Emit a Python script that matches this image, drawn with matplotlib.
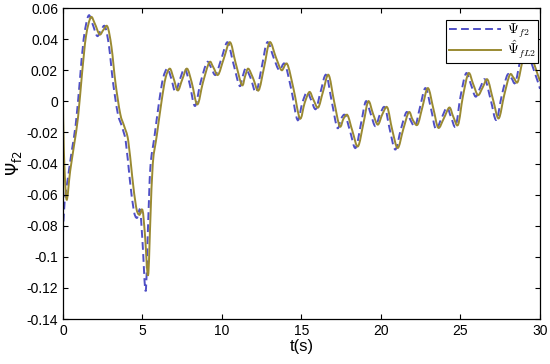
import matplotlib
matplotlib.use('Agg')
import matplotlib.pyplot as plt
from matplotlib.path import Path
from matplotlib.patches import PathPatch
from matplotlib.font_manager import FontProperties
import numpy as np

plt.rcParams['font.family'] = ['Liberation Sans', 'DejaVu Sans']

# reference signal Psi_f2 (dashed)
t_ref = [0.0, 0.1, 0.3, 0.55, 0.8, 1.05, 1.3, 1.6, 1.85, 2.15, 2.4, 2.65, 2.9, 3.15,
         3.45, 3.7, 3.95, 4.2, 4.45, 4.65, 4.85, 5.0, 5.2, 5.35, 5.5, 5.75, 6.05,
         6.3, 6.57, 6.8, 7.07, 7.35, 7.65, 7.95, 8.3, 8.65, 9.05, 9.3, 9.6, 9.95,
         10.35, 10.7, 11.1, 11.3, 11.5, 11.8, 12.15, 12.5, 12.85, 13.25, 13.6,
         13.95, 14.35, 14.75, 15.05, 15.35, 15.6, 15.9, 16.2, 16.55, 16.9, 17.25,
         17.5, 17.75, 18.05, 18.4, 18.75, 19.05, 19.35, 19.65, 19.95, 20.25, 20.55,
         20.9, 21.25, 21.6, 21.85, 22.15, 22.45, 22.8, 23.15, 23.45, 23.8, 24.15,
         24.4, 24.7, 25.0, 25.35, 25.65, 25.95, 26.25, 26.55, 26.9, 27.25, 27.6,
         27.95, 28.2, 28.45, 28.75, 29.05, 29.45, 29.85, 30.0]
psi_ref = [-0.085, -0.065, -0.05, -0.032, -0.015, 0.012, 0.04, 0.055, 0.05, 0.042,
           0.046, 0.048, 0.035, 0.012, -0.008, -0.016, -0.026, -0.05, -0.07, -0.075,
           -0.07, -0.09, -0.122, -0.08, -0.042, -0.023, 0.0, 0.015, 0.021, 0.015,
           0.006, 0.014, 0.021, 0.012, -0.003, 0.012, 0.025, 0.022, 0.017, 0.027,
           0.038, 0.025, 0.01, 0.016, 0.021, 0.015, 0.006, 0.022, 0.038, 0.028,
           0.02, 0.024, 0.008, -0.012, -0.001, 0.006, 0.001, -0.005, 0.006, 0.017,
           0.0, -0.017, -0.011, -0.009, -0.019, -0.03, -0.014, 0.0, -0.008, -0.016,
           -0.008, -0.004, -0.018, -0.031, -0.018, -0.007, -0.012, -0.016, -0.004,
           0.0085, -0.005, -0.018, -0.011, -0.004, -0.01, -0.016, 0.003, 0.018,
           0.011, 0.003, 0.009, 0.014, 0.001, -0.012, 0.004, 0.017, 0.015, 0.012,
           0.026, 0.038, 0.025, 0.013, 0.008]

# estimate Psi_fL2 (solid)
t_est = [0.0, 0.05, 0.22, 0.45, 0.7, 0.95, 1.2, 1.45, 1.75, 2.0, 2.3, 2.55, 2.8,
         3.05, 3.3, 3.6, 3.85, 4.1, 4.35, 4.6, 4.8, 5.0, 5.15, 5.35, 5.5, 5.65,
         5.9, 6.2, 6.45, 6.72, 6.95, 7.22, 7.5, 7.8, 8.1, 8.45, 8.8, 9.2, 9.45,
         9.75, 10.1, 10.5, 10.85, 11.25, 11.45, 11.65, 11.95, 12.3, 12.65, 13.0,
         13.4, 13.75, 14.1, 14.5, 14.9, 15.2, 15.5, 15.75, 16.05, 16.35, 16.7,
         17.05, 17.4, 17.65, 17.9, 18.2, 18.55, 18.9, 19.2, 19.5, 19.8, 20.1, 20.4,
         20.7, 21.05, 21.4, 21.75, 22.0, 22.3, 22.6, 22.95, 23.3, 23.6, 23.95,
         24.3, 24.55, 24.85, 25.15, 25.5, 25.8, 26.1, 26.4, 26.7, 27.05, 27.4,
         27.75, 28.1, 28.35, 28.6, 28.9, 29.2, 29.6, 30.0]
psi_est = [0.003, -0.03, -0.063, -0.045, -0.028, -0.01, 0.018, 0.042, 0.054, 0.05,
           0.043, 0.046, 0.048, 0.035, 0.012, -0.008, -0.016, -0.025, -0.048, -0.068,
           -0.073, -0.07, -0.085, -0.112, -0.075, -0.04, -0.022, 0.0, 0.015, 0.021,
           0.015, 0.007, 0.014, 0.021, 0.012, -0.002, 0.012, 0.025, 0.022, 0.017,
           0.027, 0.038, 0.025, 0.0105, 0.016, 0.021, 0.015, 0.007, 0.022, 0.038,
           0.028, 0.02, 0.024, 0.008, -0.011, -0.001, 0.006, 0.001, -0.004, 0.006,
           0.017, 0.0, -0.016, -0.011, -0.009, -0.019, -0.029, -0.014, 0.0, -0.008,
           -0.015, -0.008, -0.004, -0.018, -0.03, -0.018, -0.007, -0.012, -0.015,
           -0.004, 0.0085, -0.005, -0.017, -0.011, -0.004, -0.01, -0.015, 0.003,
           0.018, 0.011, 0.004, 0.009, 0.014, 0.001, -0.011, 0.004, 0.017, 0.015,
           0.0125, 0.026, 0.038, 0.025, 0.013]

y_ticks = [0.06, 0.04, 0.02, 0, -0.02, -0.04, -0.06, -0.08, -0.1, -0.12, -0.14]
y_labels = ['0.06', '0.04', '0.02', '0', '-0.02', '-0.04', '-0.06', '-0.08', '-0.1', '-0.12', '-0.14']
x_ticks = [0, 5, 10, 15, 20, 25, 30]

c_ref = '#4f4fc6'
c_est = '#9a8a32'


def smooth_path(t, v):
    # Catmull-Rom through the read points, drawn as cubic Bezier segments
    p = np.column_stack([t, v])
    verts = [p[0]]
    codes = [Path.MOVETO]
    for i in range(len(p) - 1):
        p0 = p[i - 1] if i > 0 else p[i]
        p3 = p[i + 2] if i + 2 < len(p) else p[i + 1]
        c1 = p[i] + (p[i + 1] - p0) / 6.0
        c2 = p[i + 1] - (p3 - p[i]) / 6.0
        verts += [c1, c2, p[i + 1]]
        codes += [Path.CURVE4] * 3
    return Path(verts, codes)


fig = plt.figure(figsize=(5.5, 3.64), dpi=100)
ax = fig.add_axes([0.1145, 0.1236, 0.8673, 0.8544])

ax.add_patch(PathPatch(smooth_path(t_ref, psi_ref), fill=False, edgecolor=c_ref,
                       lw=1.4, linestyle=(0, (4, 2.2)), transform=ax.transData))
ax.add_patch(PathPatch(smooth_path(t_est, psi_est), fill=False, edgecolor=c_est,
                       lw=1.4, transform=ax.transData))

h1, = ax.plot([], [], color=c_ref, lw=1.4, linestyle=(0, (4, 2.2)), label=r'$\Psi_{f2}$')
h2, = ax.plot([], [], color=c_est, lw=1.4, label=r'$\hat{\Psi}_{fL2}$')

ax.set_xlim(0, 30)
ax.set_ylim(-0.14, 0.06)
ax.set_xticks(x_ticks)
ax.set_yticks(y_ticks)
ax.set_yticklabels(y_labels)
ax.tick_params(direction='in', length=3.5, top=True, right=True, labelsize=10, width=0.8)
for s in ax.spines.values():
    s.set_linewidth(0.9)

ax.set_xlabel('t(s)', fontsize=12, labelpad=1)
ax.set_ylabel(r'$\Psi_{\mathrm{f2}}$', fontsize=12, math_fontfamily='dejavusans', labelpad=2)

leg = ax.legend(handles=[h1, h2], loc='upper right', bbox_to_anchor=(0.996, 0.961),
                borderaxespad=0, fancybox=False, framealpha=1, edgecolor='black',
                handlelength=3.8, prop=FontProperties(size=10, math_fontfamily='cm'),
                borderpad=0.15, labelspacing=-0.1, handletextpad=0.4)
leg.get_frame().set_linewidth(0.8)

plt.savefig('out.png', dpi=100)
